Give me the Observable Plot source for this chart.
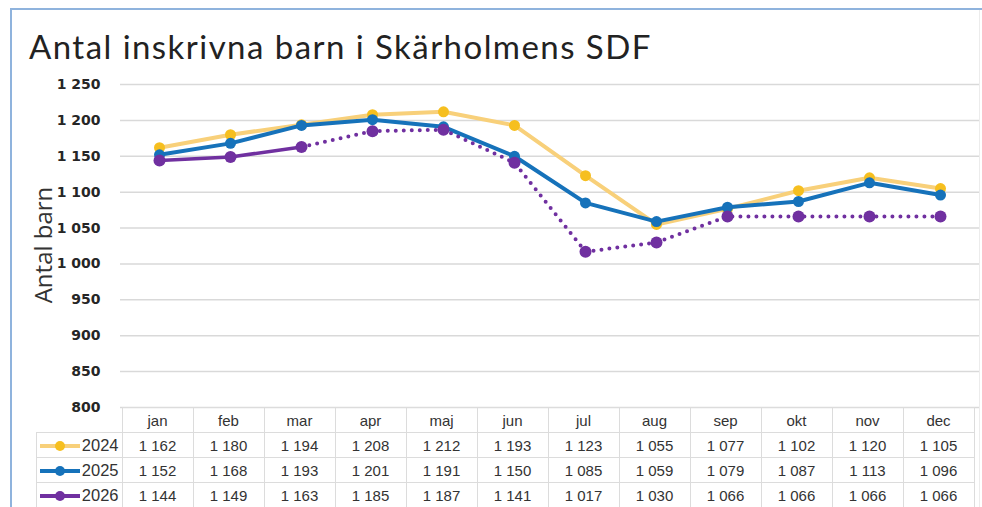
<!DOCTYPE html>
<html>
<head>
<meta charset="utf-8">
<script src="https://cdn.jsdelivr.net/npm/d3@7"></script>
<script src="https://cdn.jsdelivr.net/npm/@observablehq/plot@0.6"></script>
<style>
  html, body { margin: 0; padding: 0; background: #fff; }
  #wrap { position: relative; width: 982px; height: 507px; overflow: hidden; background: #fff; }
  #frame { position: absolute; left: 10px; top: 8px; right: 0; bottom: -5px;
           border-left: 2px solid #8fb3dd; border-top: 2px solid #8fb3dd; }
  #rightedge { position: absolute; left: 979px; top: 10px; width: 1px; bottom: 0; background: #ececec; }
  #title { position: absolute; left: 29px; top: 26px; font-family: Lato, "Noto Sans", sans-serif;
           font-size: 33px; color: #222; white-space: nowrap; letter-spacing: 1.45px; }
  #ylabel { position: absolute; left: 42px; top: 245px; transform: translate(-50%, -50%) rotate(-90deg);
            font-family: "Open Sans", "Noto Sans", sans-serif; font-size: 24px; color: #333; white-space: nowrap; }
  #chart { position: absolute; left: 0; top: 0; }
  table.dt { position: absolute; top: 407px; border-collapse: collapse; table-layout: fixed;
             font-family: "Liberation Sans", Arial, sans-serif; font-size: 15px; color: #333; }
  table.dt td { border: 1.5px solid #dcdcdc; height: 24px; padding: 0; text-align: center; white-space: nowrap; }
  table.dt td.blank { border: none; }
  table.dt td.lab { text-align: right; font-size: 16.5px; padding-right: 3px; }
  table.dt td.lab svg { vertical-align: -1px; margin-right: 0px; }
</style>
</head>
<body>
<div id="wrap">
  <div id="frame"></div>
  <div id="rightedge"></div>
  <div id="chart"></div>
  <div id="title">Antal inskrivna barn i Skärholmens SDF</div>
  <div id="ylabel">Antal barn</div>
</div>
<script>
const months = ["jan","feb","mar","apr","maj","jun","jul","aug","sep","okt","nov","dec"];
const years = ["2024","2025","2026"];
const values2024 = [1162,1180,1194,1208,1212,1193,1123,1055,1077,1102,1120,1105];
const values2025 = [1152,1168,1193,1201,1191,1150,1085,1059,1079,1087,1113,1096];
const values2026 = [1144,1149,1163,1185,1187,1141,1017,1030,1066,1066,1066,1066];
const yTicks = [800,850,900,950,1000,1050,1100,1150,1200,1250];
const colors = {"2024": "#f6bf1f", "2025": "#1672ba", "2026": "#7030a0"};
const lineColors = {"2024": "#f8d07a", "2025": "#1672ba", "2026": "#7030a0"};

const sv = d3.formatLocale({decimal: ",", thousands: "\u00a0", grouping: [3], currency: ["", " kr"]});
const fmt = sv.format(",d");

const series = {"2024": values2024, "2025": values2025, "2026": values2026};
const rows = years.flatMap(y => months.map((m, i) => ({year: y, month: m, value: series[y][i], i})));
const r2024 = rows.filter(d => d.year === "2024");
const r2025 = rows.filter(d => d.year === "2025");
const r2026solid = rows.filter(d => d.year === "2026" && d.i <= 2);
const r2026dot = rows.filter(d => d.year === "2026" && d.i >= 2);

const plot = Plot.plot({
  width: 982,
  height: 507,
  marginTop: 84,
  marginBottom: 100,
  marginLeft: 120,
  marginRight: 3,
  style: {background: "transparent", overflow: "visible"},
  x: {type: "point", domain: months, padding: 0.5, axis: null},
  y: {domain: [800, 1250]},
  marks: [
    Plot.gridY(yTicks, {stroke: "#d9d9d9", strokeOpacity: 1, strokeWidth: 1.5}),
    Plot.axisY(yTicks, {tickSize: 0, tickPadding: 20, tickFormat: fmt, label: null,
      fontSize: 14, fontWeight: "bold", fontFamily: "DejaVu Sans, sans-serif", fill: "#262626"}),
    Plot.lineY(r2024, {x: "month", y: "value", stroke: lineColors["2024"], strokeWidth: 4}),
    Plot.dot(r2024, {x: "month", y: "value", r: 5.5, fill: colors["2024"]}),
    Plot.lineY(r2025, {x: "month", y: "value", stroke: lineColors["2025"], strokeWidth: 4}),
    Plot.dot(r2025, {x: "month", y: "value", r: 5.5, fill: colors["2025"]}),
    Plot.lineY(r2026solid, {x: "month", y: "value", stroke: lineColors["2026"], strokeWidth: 3.5}),
    Plot.lineY(r2026dot, {x: "month", y: "value", stroke: lineColors["2026"], strokeWidth: 4,
      strokeDasharray: "0 8", strokeLinecap: "round"}),
    Plot.dot(rows.filter(d => d.year === "2026"), {x: "month", y: "value", r: 6, fill: colors["2026"]})
  ]
});
document.getElementById("chart").appendChild(plot);

// Data table aligned with the x scale
const xs = plot.scale("x");
const step = xs.step;
const firstEdge = xs.apply(months[0]) - step / 2;
const labelLeft = 36;
const table = document.createElement("table");
table.className = "dt";
table.style.left = labelLeft + "px";
const cg = document.createElement("colgroup");
const c0 = document.createElement("col"); c0.style.width = (firstEdge - labelLeft - 2) + "px"; cg.appendChild(c0);
months.forEach(() => { const c = document.createElement("col"); c.style.width = step + "px"; cg.appendChild(c); });
table.appendChild(cg);
const head = document.createElement("tr");
const hb = document.createElement("td"); hb.className = "blank"; head.appendChild(hb);
months.forEach(m => { const td = document.createElement("td"); td.textContent = m; head.appendChild(td); });
table.appendChild(head);
years.forEach(y => {
  const tr = document.createElement("tr");
  const lab = document.createElement("td"); lab.className = "lab";
  lab.innerHTML = `<svg width="44" height="12"><line x1="2" y1="6" x2="42" y2="6" stroke="${lineColors[y]}" stroke-width="4"/><circle cx="22" cy="6" r="5" fill="${colors[y]}"/></svg>${y}`;
  tr.appendChild(lab);
  series[y].forEach(v => { const td = document.createElement("td"); td.textContent = fmt(v); tr.appendChild(td); });
  table.appendChild(tr);
});
document.getElementById("wrap").appendChild(table);
</script>
</body>
</html>
